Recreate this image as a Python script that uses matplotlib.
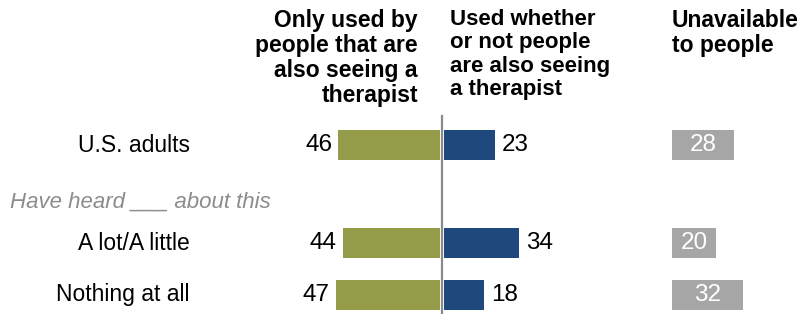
import matplotlib.pyplot as plt
import matplotlib.font_manager as fm

names = {f.name for f in fm.fontManager.ttflist}
base = 'Liberation Sans Narrow' if 'Liberation Sans Narrow' in names else 'Liberation Sans'
plt.rcParams['font.family'] = [base, 'DejaVu Sans']

# data
groups = ['U.S. adults', 'A lot/A little', 'Nothing at all']
only_therapist = [46, 44, 47]
whether_or_not = [23, 34, 18]
unavailable = [28, 20, 32]
headers = ['Only used by\npeople that are\nalso seeing a\ntherapist',
           'Used whether\nor not people\nare also seeing\na therapist',
           'Unavailable\nto people']
subhead = 'Have heard ___ about this'

green = '#949c4a'
blue = '#1f497d'
gray = '#a6a6a6'

W, H = 803, 314
scale = 2.22          # px per percentage point
center = 442          # px position of zero line
gray_start = (672 - center) / scale

fig = plt.figure(figsize=(W / 100, H / 100), dpi=100)
ax = fig.add_axes([0, 0, 1, 1])
ax.set_xlim(-center / scale, (W - center) / scale)
ax.set_ylim(H, 0)
ax.axis('off')

rows = [145, 243, 295]
bh = 30
fs = 16.5

ax.barh(rows, [-v for v in only_therapist], height=bh, color=green, left=-0.7)
ax.barh(rows, whether_or_not, height=bh, color=blue, left=0.7)
ax.barh(rows, unavailable, height=bh, color=gray, left=gray_start)
ax.plot([0, 0], [116, H], color='#8a8a8a', lw=1.6)

for y, g, a, b, c in zip(rows, groups, only_therapist, whether_or_not, unavailable):
    ax.text(-center / scale + 190 / scale, y, g, ha='right', va='center', fontsize=fs)
    ax.text(-a - 3.5, y, str(a), ha='right', va='center', fontsize=17.5)
    ax.text(b + 4, y, str(b), ha='left', va='center', fontsize=17.5)
    ax.text(gray_start + c / 2, y, str(c), ha='center', va='center',
            fontsize=17.5, color='white')

ax.text(-center / scale + 10 / scale, 202, subhead, ha='left', va='center',
        fontsize=16, style='italic', color='#8c8c8c')

hs = 16.5
ax.text(-24 / scale, 9, headers[0], ha='right', va='top', fontsize=hs,
        fontweight='bold', linespacing=1.12)
ax.text(8 / scale, 9, headers[1], ha='left', va='top', fontsize=16,
        fontweight='bold', linespacing=1.15)
ax.text(gray_start, 9, headers[2], ha='left', va='top', fontsize=hs,
        fontweight='bold', linespacing=1.12)

fig.savefig('out.png', dpi=100)
